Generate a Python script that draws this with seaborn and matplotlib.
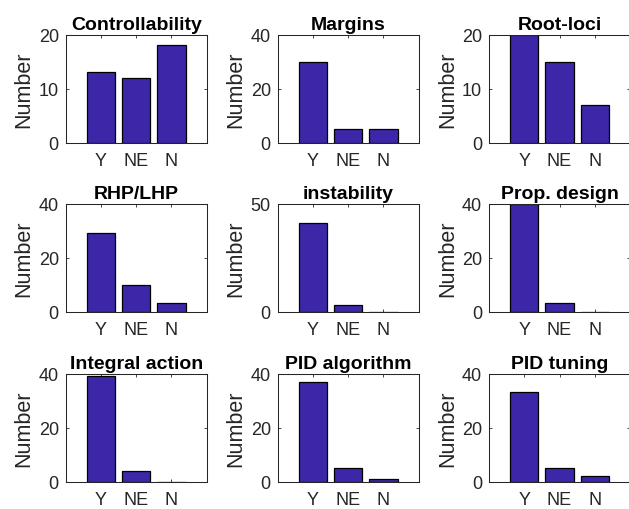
import numpy as np
import pandas as pd
import matplotlib
matplotlib.use('Agg')
import matplotlib.pyplot as plt
import seaborn as sns

# answer categories
categories = ['Y', 'NE', 'N']

# panel titles, in reading order
titles = ['Controllability', 'Margins', 'Root-loci',
          'RHP/LHP', 'instability', 'Prop. design',
          'Integral action', 'PID algorithm', 'PID tuning']

# counts per panel (Y, NE, N)
controllability = [13, 12, 18]
margins = [30, 5, 5]
root_loci = [20, 15, 7]
rhp_lhp = [29, 10, 3]
instability = [41, 3, 0]
prop_design = [40, 3, 0]
integral_action = [39, 4, 0]
pid_algorithm = [37, 5, 1]
pid_tuning = [33, 5, 2]

# y-axis upper limits and tick steps per panel
ylims = [20, 40, 20, 40, 50, 40, 40, 40, 40]
ysteps = [10, 20, 10, 20, 50, 20, 20, 20, 20]

all_counts = [controllability, margins, root_loci,
              rhp_lhp, instability, prop_design,
              integral_action, pid_algorithm, pid_tuning]

sns.set_style('white')
plt.rcParams['font.family'] = ['Liberation Sans', 'DejaVu Sans']

W, H = 629, 510
fig = plt.figure(figsize=(W / 100, H / 100), dpi=100)

col_left = [65.7, 277.7, 489.0]
row_top = [35.5, 204.5, 374.5]
ax_w, ax_h = 141.0, 108.0
bar_color = '#3E26A8'
axis_color = '#262626'

for i, (title, counts) in enumerate(zip(titles, all_counts)):
    r, c = divmod(i, 3)
    ax = fig.add_axes([col_left[c] / W, (H - row_top[r] - ax_h) / H, ax_w / W, ax_h / H])
    df = pd.DataFrame({'answer': categories, 'count': counts})
    sns.barplot(data=df, x='answer', y='count', color=bar_color, saturation=1,
                edgecolor='black', linewidth=0.9, width=0.8, ax=ax)
    ax.set_xlim(-1, 3)
    ax.set_ylim(0, ylims[i])
    ax.set_yticks(np.arange(0, ylims[i] + 1, ysteps[i]))
    ax.set_title(title, fontsize=14, fontweight='bold', pad=4, color='black')
    ax.set_xlabel('')
    ax.set_ylabel('Number', fontsize=15.5, labelpad=3, color=axis_color)
    ax.tick_params(direction='in', length=2, width=0.6, colors=axis_color,
                   labelsize=13, top=True, right=True, bottom=True, left=True,
                   labelcolor=axis_color)
    ax.tick_params(axis='x', pad=7)
    ax.tick_params(axis='y', pad=5)
    for sp in ax.spines.values():
        sp.set_visible(True)
        sp.set_color(axis_color)
        sp.set_linewidth(0.75)

fig.savefig('out.png', dpi=100, facecolor='white')
